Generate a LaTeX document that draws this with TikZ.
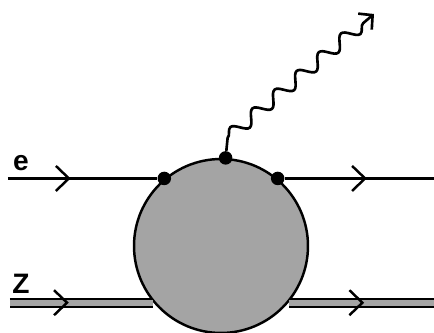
\documentclass[tikz,border=0pt]{standalone}
\usepackage{fontspec}
\setsansfont{Liberation Sans}
\usepackage{tikz}
\usetikzlibrary{arrows.meta,decorations.pathmorphing,decorations.markings}
\definecolor{blobgray}{HTML}{A4A4A4}

\begin{document}
\begin{tikzpicture}[x=0.02cm, y=-0.02cm,
    blob/.style={draw=black, fill=blobgray, circle, line width=1.4pt, minimum size=3.48cm, inner sep=0pt},
    vtx/.style={fill=black, circle, minimum size=0.27cm, inner sep=0pt},
    lbl/.style={font=\sffamily\bfseries\fontsize{16}{18}\selectfont},
    midarrow/.style={postaction={decorate}, decoration={markings,
        mark=at position #1 with {\arrow[line width=1.4pt]{Straight Barb[length=0.26cm, width=0.5cm]}}}},
    fermion/.style={draw=black, line width=1.4pt},
    boson/.style={draw=black, line width=1.2pt, double=blobgray, double distance=0.12cm},
    photon/.style={draw=black, line width=1.5pt, -{Straight Barb[length=0.2cm, width=0.42cm, line width=1.5pt]},
        decoration={snake, segment length=0.58cm, amplitude=0.13cm, post length=0.12cm}}
]
    \useasboundingbox (0,0) rectangle (434,333);

    % Blob
    \node[blob] (blob) at (221,246) {};

    % Vertices on the blob
    \node[vtx] (v1) at (blob.130) {};
    \node[vtx] (v2) at (blob.87) {};
    \node[vtx] (v3) at (blob.50) {};

    % Ends of the lines
    \coordinate (ein) at (v1 -| 8,0);
    \coordinate (eout) at (v3 -| 434,0);
    \coordinate (zin) at (blob.220 -| 10,0);
    \coordinate (zout) at (blob.320 -| 434,0);
    \coordinate (ptip) at (374,14);

    % Labels
    \node[lbl] (elbl) at (21,163) {e};
    \node[lbl] (zlbl) at (21,284) {Z};

    % Z lines
    \draw[boson, midarrow=0.41] (zin) -- (blob.220);
    \draw[boson, midarrow=0.52] (blob.320) -- (zout);

    % Electron lines
    \draw[fermion, midarrow=0.42] (ein) -- (v1);
    \draw[fermion, midarrow=0.55] (v3) -- (eout);

    % Photon
    \draw[photon] (v2) -- ++(2,-20) decorate {-- (ptip)};
\end{tikzpicture}
\end{document}
